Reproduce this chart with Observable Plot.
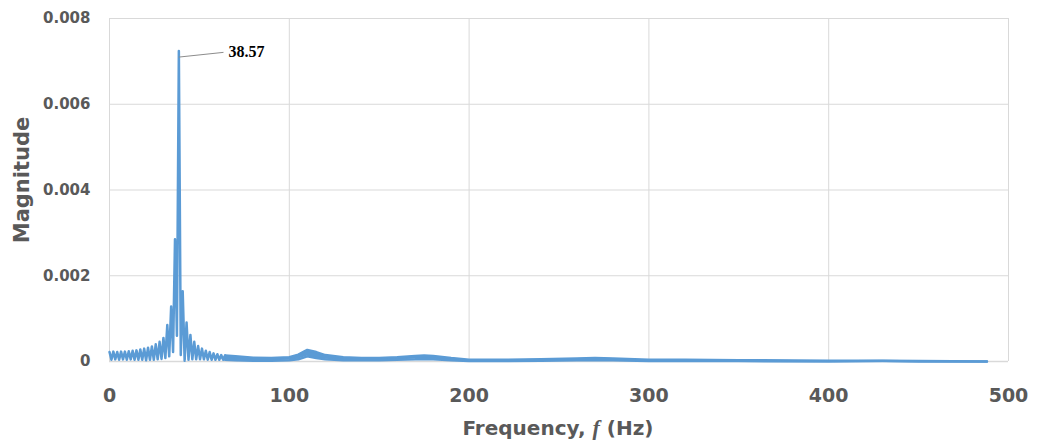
<!DOCTYPE html>
<html><head><meta charset="utf-8">
<script src="https://cdn.jsdelivr.net/npm/d3@7"></script>
<script src="https://cdn.jsdelivr.net/npm/@observablehq/plot@0.6"></script>
<style>body{margin:0;background:#fff} svg{display:block}</style>
</head><body><div id="chart"></div>
<script>
// Explicit FFT samples around the main peak (Hz, magnitude)
const freqs = [0.00,1.07,2.14,3.21,4.29,5.36,6.43,7.50,8.57,9.64,10.71,11.79,12.86,13.93,15.00,16.07,17.14,18.21,19.29,20.36,21.43,22.50,23.57,24.64,25.71,26.79,27.86,28.93,30.00,31.07,32.14,33.21,34.29,35.36,36.43,37.50,38.57,39.64,40.71,41.79,42.86,43.93,45.00,46.07,47.14,48.21,49.29,50.36,51.43,52.50,53.57,54.64,55.71,56.79,57.86,58.93,60.00,61.07,62.14,63.21,64.29];
const mags = [0.00022,0.00004,0.00023,0.00005,0.00022,0.00004,0.00023,0.00005,0.00023,0.00004,0.00024,0.00005,0.00025,0.00004,0.00026,0.00004,0.00028,0.00004,0.00030,0.00003,0.00032,0.00004,0.00035,0.00004,0.00040,0.00005,0.00046,0.00006,0.00055,0.00008,0.00085,0.00012,0.00128,0.00022,0.00285,0.00060,0.00724,0.00015,0.00164,0.00002,0.00091,0.00004,0.00062,0.00005,0.00046,0.00005,0.00036,0.00005,0.00030,0.00005,0.00025,0.00004,0.00022,0.00004,0.00019,0.00004,0.00017,0.00004,0.00015,0.00004,0.00014];
// Dense oscillation band above 64 Hz: upper and lower envelopes
const bandFreqs = [64.29,70,80,90,100,105,110,115,120,130,140,150,160,170,175,180,190,200,220,240,260,270,280,300,320,350,400,430,450,488];
const bandUpper = [0.00014,0.00012,0.00009,0.00008,0.00010,0.00016,0.00027,0.00022,0.00015,0.00010,0.00008,0.00008,0.00010,0.00013,0.00014,0.00013,0.00008,0.00004,0.00004,0.00005,0.00007,0.00008,0.00007,0.00004,0.00004,0.00003,0.00002,0.00002,0.00001,0.00000];
const bandLower = [0.00004,0.00003,0.00002,0.00002,0.00003,0.00005,0.00012,0.00008,0.00005,0.00003,0.00003,0.00003,0.00004,0.00005,0.00006,0.00005,0.00003,0.00001,0.00001,0.00002,0.00003,0.00003,0.00003,0.00001,0.00001,0.00001,0.00000,0.00001,0.00000,0.00000];
const xTicks = [0,100,200,300,400,500];
const yTicks = [0,0.002,0.004,0.006,0.008];
const peakNote = [{f:38.57, m:0.0071, lf:63.4, lm:0.00721, label:"38.57"}];

const lineData = freqs.map((f,i)=>({f, m:mags[i]}));
const bandData = bandFreqs.map((f,i)=>({f, hi:bandUpper[i], lo:bandLower[i]}));
const blue = "#5b9bd5";

const chart = Plot.plot({
  width:1039, height:441,
  marginLeft:109, marginRight:31, marginTop:18, marginBottom:80,
  style:{fontFamily:"DejaVu Sans", fontWeight:"bold", color:"#595959", background:"#fff"},
  x:{domain:[0,500]},
  y:{domain:[0,0.008]},
  marks:[
    Plot.gridX(xTicks,{stroke:"#d9d9d9", strokeOpacity:1}),
    Plot.gridY(yTicks.slice(1),{stroke:"#d9d9d9", strokeOpacity:1}),
    Plot.ruleY([0],{stroke:"#d9d9d9", strokeWidth:1.5}),
    Plot.axisX(xTicks,{tickSize:0, tickPadding:27, fontSize:19, label:null, tickFormat:d=>String(d)}),
    Plot.axisY(yTicks,{tickSize:0, tickPadding:19, fontSize:15, label:null, tickFormat:d=>d===0?"0":d.toFixed(3)}),
    Plot.areaY(bandData,{x:"f", y1:"lo", y2:"hi", fill:blue}),
    Plot.line(bandData,{x:"f", y:"hi", stroke:blue, strokeWidth:2.5}),
    Plot.line(bandData,{x:"f", y:"lo", stroke:blue, strokeWidth:2.5}),
    Plot.line(lineData,{x:"f", y:"m", stroke:blue, strokeWidth:2.5}),
    Plot.link(peakNote,{x1:"f", y1:"m", x2:"lf", y2:"lm", stroke:"#8c8c8c", strokeWidth:1}),
    Plot.text(peakNote,{x:"lf", y:"lm", text:"label", textAnchor:"start", dx:5, fontFamily:"Liberation Serif", fontWeight:"bold", fontSize:16, fill:"#000"})
  ]
});
document.getElementById("chart").appendChild(chart);

const svg = d3.select(chart);
const xt = svg.append("text")
  .attr("x", 558).attr("y", 435)
  .attr("text-anchor","middle")
  .attr("font-family","DejaVu Sans").attr("font-weight","bold")
  .attr("font-size",20).attr("fill","#595959");
xt.append("tspan").text("Frequency, ");
xt.append("tspan").attr("font-style","italic").attr("font-family","Liberation Serif").attr("font-size",22).text("f");
xt.append("tspan").text(" (Hz)");
svg.append("text")
  .attr("transform","translate(29,180) rotate(-90)")
  .attr("text-anchor","middle")
  .attr("font-family","DejaVu Sans").attr("font-weight","bold")
  .attr("font-size",21).attr("fill","#595959")
  .text("Magnitude");
</script>
</body></html>
